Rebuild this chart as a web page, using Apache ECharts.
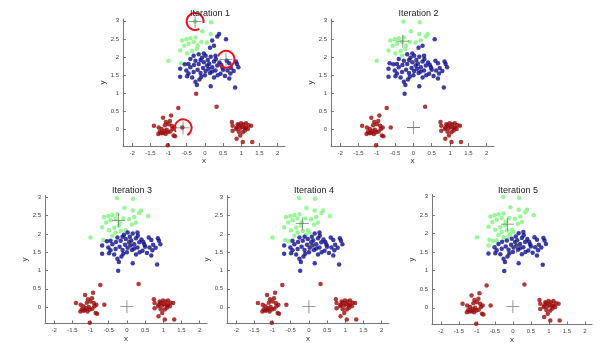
<!DOCTYPE html>
<html><head><meta charset="utf-8">
<script src="https://cdn.jsdelivr.net/npm/echarts@6/dist/echarts.min.js"></script>
<style>html,body{margin:0;padding:0;background:#fff}#c{width:607px;height:348px}</style>
</head><body><div id="c"></div>
<script>
// data points (x, y) — same sample set in every iteration
const pointsX = [
 -0.27,0.17,-0.07,0.16,0.39,0.34,0.58,-0.63,-0.51,-0.40,-0.26,-0.45,-0.57,-0.31,-0.10,0.06,0.20,0.25,0.14,-0.22,-0.35,-0.49,-0.31,-0.17,-0.03,-0.40,-0.26,-0.12,-1.00,-0.65,-0.45,-0.68,-0.20,
 0.02,0.16,0.29,0.60,0.67,0.88,0.92,-0.17,-0.03,0.06,0.20,0.34,0.48,0.62,0.79,-0.40,-0.31,-0.12,0.02,0.14,0.29,0.43,-0.68,-0.51,-0.68,-0.49,-0.35,-0.10,0.25,0.67,-0.26,-0.22,0.16,0.83,-0.24,
 -0.05,0.10,0.40,0.50,-0.20,0.25,0.08,-0.30,0.35,0.55,0.72,0.00,-0.15,0.45,0.85,-0.55,0.12,-0.08,0.30,0.70,-0.45,0.20,
 0.32,-0.73,
 -1.15,-0.93,-1.07,-1.00,-0.91,-0.84,-1.40,-1.27,-1.19,-1.12,-1.05,-1.24,-1.28,-1.15,-1.02,-0.86,-0.82,-0.89,-0.62,-1.02,-1.10,-0.96,-1.20,-1.08,-0.95,
 0.74,0.76,0.87,0.93,0.99,1.06,1.13,1.20,1.27,0.86,0.97,1.09,1.18,0.76,0.93,1.04,0.97,0.87,1.04,1.30,1.02,1.13,0.90,1.10
];
const pointsY = [
 2.98,2.96,2.71,2.64,2.64,2.57,2.49,2.46,2.49,2.52,2.54,2.37,2.31,2.42,2.42,2.40,2.46,2.31,2.26,2.22,2.17,2.10,2.04,2.08,2.10,1.95,1.90,1.92,1.90,1.83,1.81,2.18,2.32,
 2.04,2.01,2.04,1.90,1.83,1.81,1.72,1.81,1.86,1.77,1.72,1.77,1.71,1.63,1.62,1.72,1.59,1.56,1.62,1.56,1.63,1.54,1.68,1.63,1.46,1.47,1.44,1.46,1.44,1.41,1.32,1.23,1.20,1.16,0.99,
 1.70,1.68,1.85,1.65,1.65,1.88,1.92,1.78,1.50,1.48,1.70,1.50,1.38,1.78,1.88,1.80,1.82,1.98,1.95,1.55,1.55,1.60,
 0.63,0.60,
 0.33,0.39,0.21,0.15,0.11,0.06,0.11,0.06,0.02,-0.03,0.00,-0.06,-0.12,-0.09,-0.07,-0.16,-0.18,0.02,0.06,-0.43,0.12,0.24,-0.10,-0.12,-0.05,
 0.21,0.11,0.06,0.12,0.18,0.15,0.18,0.12,0.11,0.02,0.04,0.04,0.02,-0.03,-0.06,-0.07,-0.16,-0.25,-0.34,-0.34,0.08,0.06,0.15,-0.02
];
// centroid positions per iteration: [green, blue, red]
const centroidsGreen = [[-0.27,2.98],[-0.29,2.44],[-0.23,2.37],[-0.18,2.28],[-0.15,2.25]];
const centroidsBlue  = [[0.58,1.94],[0.05,1.86],[0.05,1.74],[0.06,1.69],[0.10,1.64]];
const centroidsRed   = [[-0.60,0.05],[0.00,0.06],[0.00,0.01],[0.00,0.01],[0.00,0.03]];
const titles = ['Iteration 1','Iteration 2','Iteration 3','Iteration 4','Iteration 5'];
const xTicks = [-2,-1.5,-1,-0.5,0,0.5,1,1.5,2];
const yTicks = [0,0.5,1,1.5,2,2.5,3];

const grids = [
 {left:123, top:19, width:162, height:127},
 {left:331, top:19, width:163, height:127},
 {left:45,  top:195.5, width:162, height:128},
 {left:227, top:195.5, width:162, height:128},
 {left:432, top:194.5, width:160, height:130}
];
const COL = {g:'#80f580', b:'#0c0c8c', r:'#9a0a0a'};
const plus = 'path://M-0.06,-1H0.06V-0.06H1V0.06H0.06V1H-0.06V0.06H-1V-0.06H-0.06Z';

const option = {animation:false, backgroundColor:'#fff', grid:[], xAxis:[], yAxis:[], title:[], series:[]};
const axisCommon = {
  axisLine:{onZero:false, lineStyle:{color:'#777', width:1}},
  axisTick:{inside:true, length:3, lineStyle:{color:'#777'}},
  splitLine:{show:false},
  nameTextStyle:{fontSize:8, color:'#333', fontFamily:'Liberation Sans'}
};
grids.forEach((g,i)=>{
  option.grid.push(g);
  option.xAxis.push(Object.assign({}, axisCommon, {
    gridIndex:i, type:'value', min:-2.25, max:2.2, name:'x', nameLocation:'middle', nameGap:10,
    axisTick:Object.assign({}, axisCommon.axisTick, {customValues:xTicks}),
    axisLabel:{customValues:xTicks, fontSize:6, color:'#444', margin:4, fontFamily:'Liberation Sans'}
  }));
  option.yAxis.push(Object.assign({}, axisCommon, {
    gridIndex:i, type:'value', min:-0.45, max:3.05, name:'y', nameLocation:'middle', nameGap:9, nameRotate:90,
    axisTick:Object.assign({}, axisCommon.axisTick, {customValues:yTicks}),
    axisLabel:{customValues:yTicks, fontSize:6, color:'#444', margin:4, fontFamily:'Liberation Sans'}
  }));
  option.title.push({text:titles[i], left:g.left + g.width*0.506, top: i<2 ? 4 : 181, textAlign:'center',
    textStyle:{fontSize:9, fontWeight:'normal', color:'#222', fontFamily:'Liberation Sans'}});
  const cents = [centroidsGreen[i], centroidsBlue[i], centroidsRed[i]];
  const groups = [[],[],[]];
  for (let k=0;k<pointsX.length;k++){
    let best=0, bd=Infinity;
    cents.forEach((c,j)=>{const d=(pointsX[k]-c[0])**2+(pointsY[k]-c[1])**2; if(d<bd){bd=d;best=j;}});
    groups[best].push([pointsX[k], pointsY[k]]);
  }
  [COL.g, COL.b, COL.r].forEach((col,j)=>{
    option.series.push({type:'scatter', xAxisIndex:i, yAxisIndex:i, data:groups[j], symbol:'circle', symbolSize:4.5,
      itemStyle:{color:col}, z:2});
  });
  option.series.push({type:'scatter', xAxisIndex:i, yAxisIndex:i, data:cents, symbol:plus, symbolSize:13,
    itemStyle:{color:'#5a5a5a'}, z:3});
});
// red hand-drawn circles in iteration 1
const arcAngles = [[60,370],[200,500],[150,420]];
option.series.push({type:'custom', xAxisIndex:0, yAxisIndex:0, z:4,
  data:[centroidsGreen[0], centroidsBlue[0], centroidsRed[0]],
  renderItem:(params, api)=>{
    const p = api.coord([api.value(0), api.value(1)]);
    const a = arcAngles[params.dataIndex];
    return {type:'arc', shape:{cx:p[0], cy:p[1], r:8.5, startAngle:a[0]*Math.PI/180, endAngle:a[1]*Math.PI/180, clockwise:true},
      style:{stroke:'#e3141c', fill:null, lineWidth:2}};
  }});
echarts.init(document.getElementById('c')).setOption(option);
</script></body></html>
